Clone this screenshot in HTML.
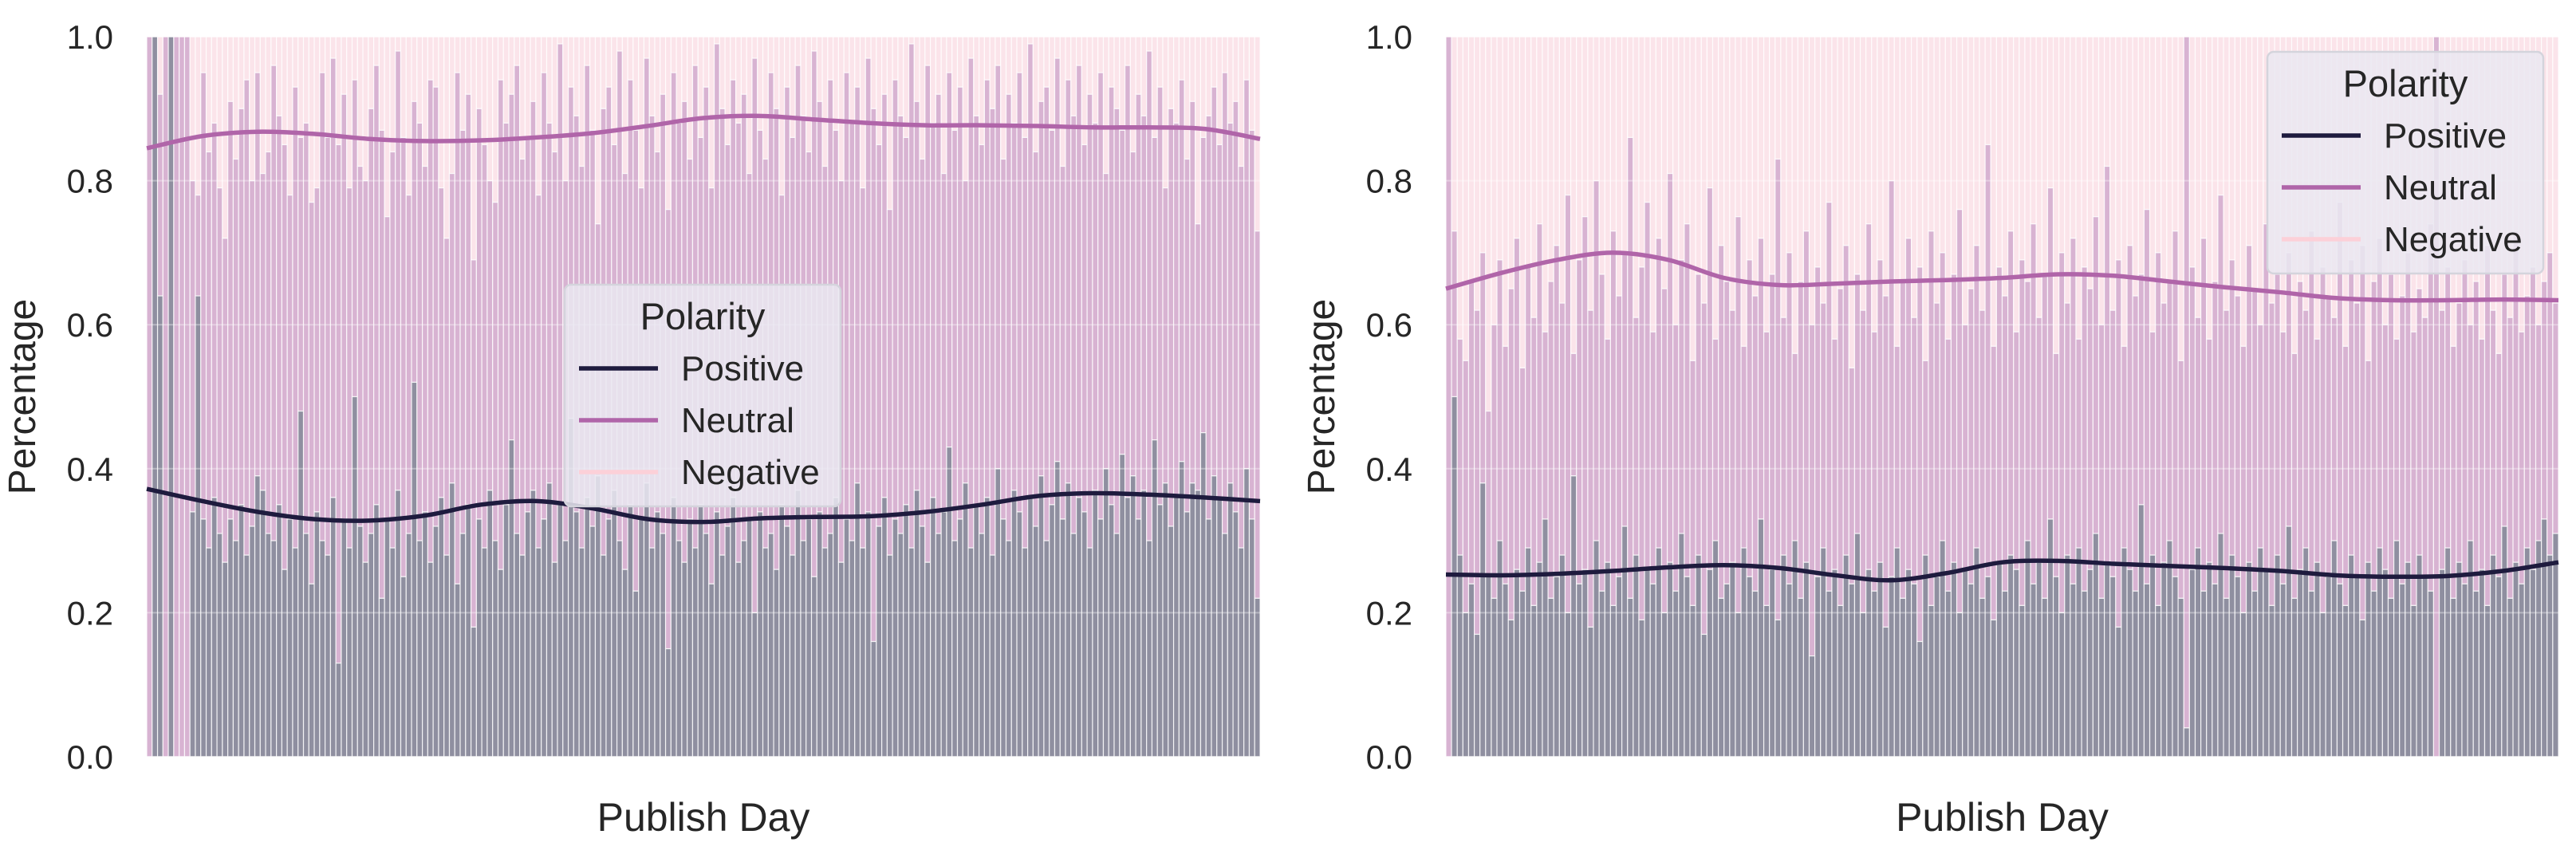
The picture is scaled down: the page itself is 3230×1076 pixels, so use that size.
<!DOCTYPE html>
<html><head><meta charset="utf-8"><style>
html,body{margin:0;padding:0;background:#fff;}
svg{display:block;font-family:"Liberation Sans",sans-serif;}
</style></head><body>
<svg id="chart" width="3230" height="1076" viewBox="0 0 3230 1076" xmlns="http://www.w3.org/2000/svg"></svg>
<script>
const leftPositive=[0.0,1.0,0.64,0.0,1.0,0.0,0.0,0.0,0.34,0.64,0.33,0.29,0.36,0.31,0.27,0.33,0.30,0.35,0.28,0.32,0.39,0.37,0.31,0.30,0.35,0.26,0.33,0.29,0.48,0.31,0.24,0.34,0.30,0.28,0.36,0.13,0.33,0.29,0.50,0.32,0.27,0.31,0.35,0.22,0.33,0.29,0.37,0.25,0.31,0.52,0.30,0.34,0.27,0.32,0.36,0.28,0.38,0.24,0.31,0.35,0.18,0.33,0.29,0.37,0.30,0.26,0.35,0.44,0.31,0.28,0.34,0.37,0.29,0.33,0.38,0.27,0.35,0.30,0.47,0.34,0.29,0.36,0.32,0.39,0.28,0.33,0.37,0.30,0.26,0.35,0.23,0.33,0.38,0.29,0.34,0.31,0.15,0.36,0.30,0.27,0.33,0.29,0.35,0.31,0.24,0.34,0.28,0.32,0.36,0.27,0.30,0.33,0.20,0.34,0.29,0.31,0.26,0.35,0.32,0.28,0.37,0.30,0.33,0.25,0.34,0.29,0.31,0.36,0.27,0.33,0.30,0.38,0.29,0.34,0.16,0.32,0.36,0.28,0.33,0.31,0.35,0.29,0.37,0.32,0.27,0.36,0.31,0.34,0.43,0.30,0.33,0.38,0.29,0.35,0.31,0.36,0.28,0.40,0.33,0.30,0.37,0.34,0.29,0.36,0.32,0.39,0.30,0.35,0.41,0.33,0.38,0.31,0.36,0.34,0.29,0.37,0.33,0.40,0.35,0.31,0.42,0.36,0.39,0.33,0.37,0.30,0.44,0.35,0.38,0.32,0.36,0.41,0.34,0.38,0.37,0.45,0.33,0.39,0.36,0.31,0.38,0.34,0.29,0.40,0.33,0.22];
const leftPosNeutral=[1.0,1.0,0.92,1.0,1.0,1.0,1.0,1.0,0.80,0.78,0.95,0.84,0.88,0.79,0.72,0.91,0.83,0.90,0.94,0.80,0.95,0.81,0.84,0.96,0.89,0.85,0.78,0.93,0.86,0.88,0.77,0.79,0.95,0.86,0.97,0.85,0.92,0.79,0.94,0.82,0.80,0.90,0.96,0.87,0.75,0.84,0.98,0.86,0.78,0.91,0.88,0.82,0.94,0.93,0.79,0.72,0.81,0.95,0.87,0.92,0.69,0.90,0.85,0.80,0.77,0.94,0.88,0.92,0.96,0.83,0.86,0.91,0.78,0.95,0.88,0.84,0.99,0.80,0.93,0.89,0.82,0.96,0.87,0.74,0.90,0.93,0.85,0.98,0.81,0.94,0.87,0.79,0.97,0.89,0.84,0.92,0.76,0.95,0.88,0.91,0.83,0.96,0.86,0.93,0.79,0.99,0.90,0.85,0.94,0.88,0.92,0.81,0.97,0.87,0.83,0.95,0.90,0.78,0.93,0.86,0.96,0.89,0.84,0.98,0.91,0.82,0.94,0.87,0.80,0.95,0.88,0.93,0.79,0.97,0.90,0.85,0.92,0.76,0.94,0.89,0.86,0.99,0.91,0.83,0.96,0.88,0.92,0.81,0.95,0.87,0.93,0.80,0.97,0.89,0.85,0.94,0.90,0.96,0.83,0.92,0.88,0.95,0.86,0.99,0.84,0.91,0.93,0.87,0.97,0.82,0.94,0.89,0.96,0.85,0.92,0.88,0.95,0.81,0.93,0.90,0.87,0.96,0.84,0.92,0.89,0.98,0.86,0.93,0.79,0.90,0.88,0.94,0.83,0.91,0.74,0.86,0.89,0.93,0.85,0.95,0.88,0.91,0.82,0.94,0.87,0.73,0.90,0.86];
const rightPositive=[0.0,0.50,0.28,0.20,0.24,0.17,0.38,0.25,0.22,0.30,0.24,0.19,0.26,0.23,0.29,0.21,0.27,0.33,0.22,0.25,0.28,0.20,0.39,0.24,0.26,0.18,0.30,0.23,0.27,0.21,0.25,0.32,0.22,0.28,0.19,0.26,0.24,0.29,0.20,0.27,0.23,0.31,0.25,0.21,0.28,0.17,0.26,0.30,0.22,0.24,0.27,0.20,0.29,0.25,0.23,0.33,0.21,0.26,0.19,0.28,0.24,0.30,0.22,0.27,0.14,0.25,0.29,0.23,0.26,0.21,0.28,0.24,0.31,0.20,0.26,0.23,0.27,0.18,0.25,0.29,0.22,0.26,0.24,0.16,0.28,0.21,0.25,0.30,0.23,0.27,0.20,0.26,0.24,0.29,0.22,0.25,0.19,0.27,0.23,0.28,0.26,0.21,0.30,0.24,0.27,0.22,0.33,0.25,0.20,0.28,0.24,0.29,0.23,0.26,0.31,0.22,0.27,0.25,0.18,0.29,0.26,0.23,0.35,0.24,0.28,0.21,0.27,0.30,0.25,0.22,0.04,0.26,0.29,0.23,0.27,0.24,0.31,0.22,0.28,0.25,0.20,0.27,0.23,0.29,0.26,0.21,0.28,0.24,0.32,0.22,0.26,0.29,0.23,0.27,0.20,0.25,0.30,0.24,0.21,0.28,0.25,0.19,0.27,0.23,0.29,0.26,0.22,0.30,0.24,0.27,0.21,0.28,0.25,0.23,0.00,0.26,0.29,0.22,0.27,0.24,0.30,0.23,0.26,0.21,0.28,0.25,0.32,0.22,0.27,0.24,0.29,0.26,0.30,0.33,0.28,0.31];
const rightPosNeutral=[1.0,0.73,0.58,0.55,0.66,0.62,0.70,0.48,0.60,0.69,0.57,0.65,0.72,0.54,0.68,0.61,0.74,0.59,0.66,0.71,0.63,0.78,0.56,0.69,0.75,0.62,0.80,0.67,0.58,0.73,0.64,0.70,0.86,0.61,0.68,0.77,0.59,0.72,0.65,0.81,0.60,0.69,0.74,0.55,0.67,0.63,0.79,0.58,0.71,0.66,0.62,0.75,0.57,0.69,0.64,0.72,0.59,0.67,0.83,0.61,0.70,0.56,0.66,0.73,0.60,0.68,0.63,0.77,0.58,0.65,0.71,0.54,0.67,0.62,0.74,0.59,0.69,0.64,0.80,0.57,0.66,0.72,0.61,0.68,0.55,0.73,0.63,0.70,0.58,0.67,0.76,0.60,0.65,0.71,0.62,0.85,0.57,0.68,0.64,0.73,0.59,0.69,0.66,0.74,0.61,0.67,0.79,0.56,0.70,0.63,0.72,0.58,0.68,0.65,0.75,0.60,0.82,0.62,0.69,0.57,0.71,0.64,0.67,0.76,0.59,0.70,0.63,0.66,0.73,0.55,1.0,0.68,0.61,0.72,0.58,0.66,0.78,0.62,0.69,0.64,0.57,0.71,0.65,0.60,0.74,0.63,0.67,0.59,0.70,0.56,0.66,0.62,0.73,0.58,0.68,0.64,0.61,0.77,0.57,0.69,0.63,0.71,0.55,0.66,0.72,0.60,0.67,0.58,0.64,0.70,0.59,0.65,0.61,0.74,1.0,0.62,0.68,0.57,0.63,0.69,0.60,0.66,0.58,0.71,0.62,0.56,0.67,0.61,0.73,0.59,0.64,0.68,0.60,0.66,0.70,0.63];
const leftPosTrend=[0.372,0.355,0.340,0.330,0.328,0.335,0.350,0.355,0.345,0.330,0.326,0.331,0.333,0.334,0.340,0.350,0.362,0.366,0.364,0.360,0.355];
const leftNeuTrend=[0.845,0.862,0.868,0.865,0.858,0.855,0.856,0.860,0.866,0.876,0.887,0.890,0.885,0.880,0.877,0.877,0.876,0.874,0.874,0.872,0.858];
const rightPosTrend=[0.253,0.252,0.254,0.258,0.263,0.266,0.262,0.252,0.245,0.255,0.270,0.272,0.268,0.265,0.262,0.258,0.252,0.250,0.251,0.258,0.270];
const rightNeuTrend=[0.650,0.672,0.690,0.700,0.690,0.665,0.655,0.657,0.660,0.662,0.665,0.670,0.668,0.660,0.652,0.645,0.637,0.634,0.634,0.635,0.634];
const yTicks=[0,0.2,0.4,0.6,0.8,1.0];
const yTickLabels=["0.0","0.2","0.4","0.6","0.8","1.0"];
const legendLabels=["Positive","Neutral","Negative"];

const NS="http://www.w3.org/2000/svg";
const svg=document.getElementById('chart');
function mk(tag,attrs,parent){const e=document.createElementNS(NS,tag);for(const k in attrs)e.setAttribute(k,attrs[k]);(parent||svg).appendChild(e);return e;}
const Y0=949,Y1=46;
function yScale(v){return Y0-(Y0-Y1)*v;}
function smoothPath(pts){let d=`M${pts[0][0]},${pts[0][1]}`;for(let i=0;i<pts.length-1;i++){const p0=pts[Math.max(0,i-1)],p1=pts[i],p2=pts[i+1],p3=pts[Math.min(pts.length-1,i+2)];d+=` C${p1[0]+(p2[0]-p0[0])/6},${p1[1]+(p2[1]-p0[1])/6} ${p2[0]-(p3[0]-p1[0])/6},${p2[1]-(p3[1]-p1[1])/6} ${p2[0]},${p2[1]}`;}return d;}

function panel(x0,x1,pos,top,posTrend,neuTrend,legendPos,side){
  const g=mk('g',{});
  
  
  const n=Math.min(pos.length,top.length),w=(x1-x0)/n;
  function xScale(i){return x0+i*w;}
  for(let i=0;i<n;i++){
    const x=xScale(i);
    const neg=mk('rect',{x:x,y:Y1,width:w,height:yScale(top[i])-Y1,fill:'#fbe4ea',stroke:'#fff','stroke-width':1.2,'stroke-opacity':0.8},g);
    
    
    const neu=mk('rect',{x:x,y:yScale(top[i]),width:w,height:Math.max(0,yScale(pos[i])-yScale(top[i])),fill:'#d8b3d2',stroke:'#fff','stroke-width':1.2,'stroke-opacity':0.8},g);
    
    
    const p=mk('rect',{x:x,y:yScale(pos[i]),width:w,height:Y0-yScale(pos[i]),fill:'#8f8fa0',stroke:'#fff','stroke-width':1.2,'stroke-opacity':0.8},g);
    
    
  }
  yTicks.forEach((t,i)=>{
    const gl=mk('line',{x1:x0,x2:x1,y1:yScale(t),y2:yScale(t),stroke:'#fff','stroke-opacity':0.35,'stroke-width':2},g);
    
    
    const tl=mk('text',{x:x0-42,y:yScale(t)+15,'text-anchor':'end','font-size':42,fill:'#262626'},g);
    tl.textContent=yTickLabels[i];
    
    
  });
  function trend(arr,color,name){
    const pts=arr.map((v,i)=>[x0+(x1-x0)*i/(arr.length-1),yScale(v)]);
    const l=mk('path',{d:smoothPath(pts),fill:'none',stroke:color,'stroke-width':5.5},g);
    
    
  }
  trend(neuTrend,'#b065a9','neutral-trend-line');
  trend(posTrend,'#1e1b3e','positive-trend-line');
  const yl=mk('text',{x:0,y:0,transform:`translate(${x0-140},${(Y0+Y1)/2}) rotate(-90)`,'text-anchor':'middle','font-size':48,fill:'#262626'},g);
  yl.textContent='Percentage';
  
  
  const xl=mk('text',{x:(x0+x1)/2,y:1042,'text-anchor':'middle','font-size':50,fill:'#262626'},g);
  xl.textContent='Publish Day';
  
  
  const [lx,ly]=legendPos;
  const lg=mk('g',{},g);
  
  
  mk('rect',{x:lx,y:ly,width:346,height:278,rx:8,fill:'#eae8f1','fill-opacity':0.85,stroke:'#d4d4dc','stroke-width':2.5},lg);
  const tt=mk('text',{x:lx+173,y:ly+56,'text-anchor':'middle','font-size':47,fill:'#262626'},lg);
  tt.textContent='Polarity';
  
  
  const cols=['#1e1b3e','#b065a9','#fcd0d8'];
  legendLabels.forEach((lab,i)=>{
    const yy=ly+105+i*65;
    const e=mk('g',{},lg);
    
    
    mk('line',{x1:lx+18,x2:lx+117,y1:yy,y2:yy,stroke:cols[i],'stroke-width':5.5},e);
    const t=mk('text',{x:lx+146,y:yy+15,'font-size':44,fill:'#262626'},e);
    t.textContent=lab;
  });
}
panel(184,1580,leftPositive,leftPosNeutral,leftPosTrend,leftNeuTrend,[708,357],'left');
panel(1813,3208,rightPositive,rightPosNeutral,rightPosTrend,rightNeuTrend,[2843,65],'right');
</script>
</body></html>
